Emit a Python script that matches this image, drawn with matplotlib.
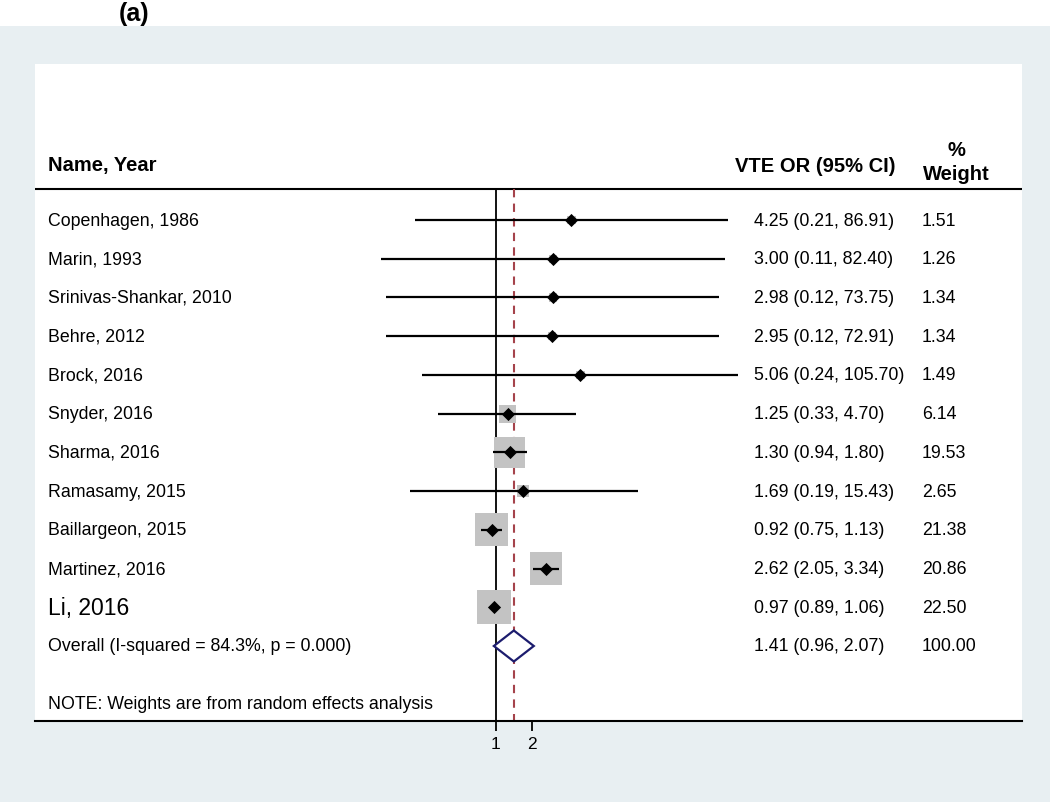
import numpy as np
import matplotlib.pyplot as plt
from matplotlib.patches import Polygon, Rectangle
import matplotlib.transforms as mtransforms

plt.rcParams['font.family'] = ['Liberation Sans', 'DejaVu Sans']

# data
studies = ["Copenhagen, 1986", "Marin, 1993", "Srinivas-Shankar, 2010", "Behre, 2012",
           "Brock, 2016", "Snyder, 2016", "Sharma, 2016", "Ramasamy, 2015",
           "Baillargeon, 2015", "Martinez, 2016", "Li, 2016"]
odds = [4.25, 3.00, 2.98, 2.95, 5.06, 1.25, 1.30, 1.69, 0.92, 2.62, 0.97]
lower = [0.21, 0.11, 0.12, 0.12, 0.24, 0.33, 0.94, 0.19, 0.75, 2.05, 0.89]
upper = [86.91, 82.40, 73.75, 72.91, 105.70, 4.70, 1.80, 15.43, 1.13, 3.34, 1.06]
weights = [1.51, 1.26, 1.34, 1.34, 1.49, 6.14, 19.53, 2.65, 21.38, 20.86, 22.50]
overall = (1.41, 0.96, 2.07)
overall_label = "Overall (I-squared = 84.3%, p = 0.000)"
note = "NOTE: Weights are from random effects analysis"

W, H = 1050, 803
fig = plt.figure(figsize=(W / 100, H / 100), dpi=100)
fig.patch.set_facecolor("#E8EFF2")
fig.patches.append(Rectangle((0, 1 - 27 / H), 1, 27 / H, transform=fig.transFigure,
                             facecolor="white", edgecolor="none", zorder=0))
fig.text(134 / W, 1 - 14 / H, "(a)", fontsize=18, fontweight="bold", ha="center", va="center")

x0, x1, y0, y1 = 35, 1022, 65, 722
ax = fig.add_axes([x0 / W, 1 - y1 / H, (x1 - x0) / W, (y1 - y0) / H])
ax.set_facecolor("white")

# log scale: 1 at px 496, 2 at px 532
ppu = 36 / np.log(2)
ax.set_xscale("log")
ax.set_xlim(np.exp((x0 - 496) / ppu), np.exp((x1 - 496) / ppu))
step = (647 - 221) / 11
row = lambda px: (px - 221) / step
ax.set_ylim(row(y1), row(y0))

for s in ["top", "left", "right"]:
    ax.spines[s].set_visible(False)
ax.spines["bottom"].set_linewidth(1.5)
ax.set_yticks([])
ax.set_xticks([1, 2])
ax.set_xticklabels(["1", "2"])
ax.xaxis.set_minor_locator(plt.NullLocator())
ax.tick_params(axis="x", direction="out", length=7, width=1.3, labelsize=12.5, pad=4)

top = row(190)
ax.axhline(top, color="black", lw=1.5)
ax.plot([1, 1], [top, row(y1)], color="black", lw=1.3)
ax.plot([overall[0]] * 2, [top, row(y1)], color="#A5434B", lw=1.5, ls=(0, (4, 3)))

ys = np.arange(len(studies))
px2pt = 0.72
sides = 34 * np.sqrt(np.array(weights) / 22.5)
ax.scatter(odds, ys, marker="s", s=(sides * px2pt) ** 2, color="#C3C3C3", zorder=2, linewidths=0)
ax.hlines(ys, lower, upper, color="black", lw=1.6, zorder=3)
ax.scatter(odds, ys, marker="D", s=45, color="black", zorder=4, linewidths=0)

oy = len(studies)
hh = 15.5 / step
diamond = Polygon([[overall[1], oy], [overall[0], oy - hh], [overall[2], oy], [overall[0], oy + hh]],
                  closed=True, facecolor="white", edgecolor="#1C1C6E", lw=1.6, zorder=4)
ax.add_patch(diamond)

tr = mtransforms.blended_transform_factory(ax.transAxes, ax.transData)
fx = lambda px: (px - x0) / (x1 - x0)

fs = 12.8
hfs = 14.5
hy = row(166)
ax.text(fx(48), hy, "Name, Year", transform=tr, fontsize=hfs, fontweight="bold", va="center")
ax.text(fx(735), hy, "VTE OR (95% CI)", transform=tr, fontsize=hfs, fontweight="bold", va="center")
ax.text(fx(956), row(150), "%", transform=tr, fontsize=hfs, fontweight="bold", va="center", ha="center")
ax.text(fx(956), row(174), "Weight", transform=tr, fontsize=hfs, fontweight="bold", va="center", ha="center")

for i, name in enumerate(studies):
    nfs = 16.5 if name.startswith("Li,") else fs
    ax.text(fx(48), i, name, transform=tr, fontsize=nfs, va="center")
    ax.text(fx(754), i, f"{odds[i]:.2f} ({lower[i]:.2f}, {upper[i]:.2f})", transform=tr,
            fontsize=fs, va="center")
    ax.text(fx(922), i, f"{weights[i]:.2f}", transform=tr, fontsize=fs, va="center")

ax.text(fx(48), oy, overall_label, transform=tr, fontsize=fs, va="center")
ax.text(fx(754), oy, f"{overall[0]:.2f} ({overall[1]:.2f}, {overall[2]:.2f})", transform=tr,
        fontsize=fs, va="center")
ax.text(fx(922), oy, "100.00", transform=tr, fontsize=fs, va="center")
ax.text(fx(48), row(705), note, transform=tr, fontsize=fs, va="center")

fig.savefig("out.png", dpi=100, facecolor=fig.get_facecolor())
